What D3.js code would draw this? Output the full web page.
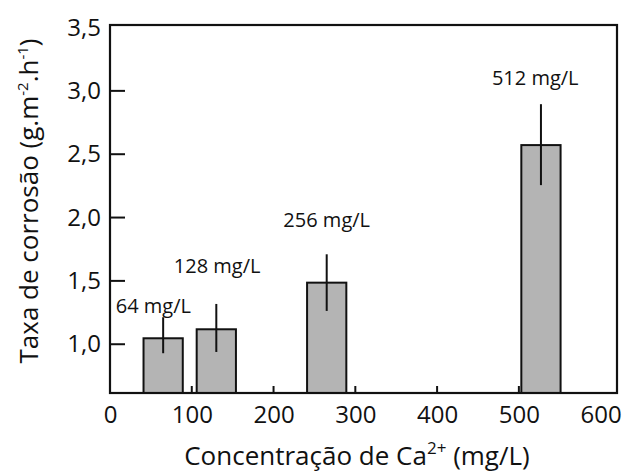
<!DOCTYPE html>
<html>
<head>
<meta charset="utf-8">
<script src="https://cdn.jsdelivr.net/npm/d3@7"></script>
<style>
  html, body { margin: 0; padding: 0; background: #fff; }
  text { font-family: "Open Sans", "Noto Sans", sans-serif; fill: #111; }
</style>
</head>
<body>
<div id="chart"></div>
<script>
// data
const concLabels = ['64 mg/L', '128 mg/L', '256 mg/L', '512 mg/L'];
const barX = [65, 130, 265, 527];          // bar centres on the x axis (mg/L)
const rates = [1.047, 1.118, 1.486, 2.572]; // taxa de corrosão
const errLow = [0.929, 0.939, 1.263, 2.256];
const errHigh = [1.213, 1.318, 1.71, 2.895];
// where each label sits (data units: x centre, baseline)
const labelX = [53, 131, 265, 520];
const labelY = [1.244, 1.565, 1.927, 3.05];
const xTicks = [0, 100, 200, 300, 400, 500, 600];
const yTicks = [1.0, 1.5, 2.0, 2.5, 3.0, 3.5];

(function(){
  const W = 638, H = 474;
  const left = 110, right = 617, top = 25, bottom = 393;
  const BAR_W = 48; // mg/L

  const svg = d3.select('#chart').append('svg').attr('width', W).attr('height', H);

  const x = d3.scaleLinear().domain([0, 620]).range([left, right]);
  const y = d3.scaleLinear().domain([0.615, 3.52]).range([bottom, top]);
  const fmt = v => d3.format('.1f')(v).replace('.', ',');

  // bars
  const data = rates.map((r,i) => ({r, x: barX[i], lo: errLow[i], hi: errHigh[i]}));
  svg.selectAll('rect.bar').data(data).join('rect')
    .attr('class','bar')
    .attr('x', d => x(d.x - BAR_W/2))
    .attr('width', d => x(d.x + BAR_W/2) - x(d.x - BAR_W/2))
    .attr('y', d => y(d.r))
    .attr('height', d => bottom - y(d.r))
    .attr('fill', '#b4b4b4')
    .attr('stroke', '#111')
    .attr('stroke-width', 2);

  // error bars (no caps)
  svg.selectAll('line.err').data(data).join('line')
    .attr('class','err')
    .attr('x1', d => x(d.x)).attr('x2', d => x(d.x))
    .attr('y1', d => y(d.lo)).attr('y2', d => y(d.hi))
    .attr('stroke', '#111').attr('stroke-width', 2);

  // frame
  svg.append('rect')
    .attr('x', left).attr('y', top)
    .attr('width', right - left).attr('height', bottom - top)
    .attr('fill', 'none').attr('stroke', '#111').attr('stroke-width', 2.2);

  // x axis: small inward ticks, labels below
  const xAxis = d3.axisBottom(x).tickValues(xTicks).tickSize(0).tickPadding(13).tickFormat(d3.format('d'));
  const gx = svg.append('g').attr('transform', `translate(0,${bottom})`).call(xAxis);
  gx.select('.domain').remove();
  gx.selectAll('text').style('font-size', '24px').attr('font-family', null).attr('fill', '#111');
  svg.selectAll('line.xtick').data(xTicks.filter(v => v > 0 && v < 600)).join('line')
    .attr('class','xtick')
    .attr('x1', d => x(d)).attr('x2', d => x(d))
    .attr('y1', bottom).attr('y2', bottom - 7)
    .attr('stroke', '#111').attr('stroke-width', 2);

  // y axis: inward ticks, labels left
  const yAxis = d3.axisLeft(y).tickValues(yTicks).tickSize(0).tickPadding(9).tickFormat(fmt);
  const gy = svg.append('g').attr('transform', `translate(${left},0)`).call(yAxis);
  gy.select('.domain').remove();
  gy.selectAll('text').style('font-size', '24px').attr('font-family', null).attr('fill', '#111');
  svg.selectAll('line.ytick').data(yTicks.filter(v => v < 3.5)).join('line')
    .attr('class','ytick')
    .attr('x1', left).attr('x2', left + 15)
    .attr('y1', d => y(d)).attr('y2', d => y(d))
    .attr('stroke', '#111').attr('stroke-width', 2);

  // concentration labels
  svg.selectAll('text.conc').data(concLabels).join('text')
    .attr('class','conc')
    .attr('x', (d,i) => x(labelX[i]))
    .attr('y', (d,i) => y(labelY[i]))
    .attr('text-anchor','middle')
    .style('font-size','20px')
    .text(d => d);

  // x title
  const xt = svg.append('text')
    .attr('x', 357).attr('y', 465)
    .attr('text-anchor','middle')
    .style('font-size','26px');
  xt.append('tspan').text('Concentração de Ca');
  xt.append('tspan').attr('baseline-shift','super').style('font-size','17px').text('2+');
  xt.append('tspan').text(' (mg/L)');

  // y title
  const yt = svg.append('text')
    .attr('transform', 'translate(38,201) rotate(-90)')
    .attr('text-anchor','middle')
    .style('font-size','26px');
  yt.append('tspan').text('Taxa de corrosão (g.m');
  yt.append('tspan').attr('baseline-shift','super').style('font-size','15px').text('-2');
  yt.append('tspan').text('.h');
  yt.append('tspan').attr('baseline-shift','super').style('font-size','15px').text('-1');
  yt.append('tspan').text(')');
})();
</script>
</body>
</html>
